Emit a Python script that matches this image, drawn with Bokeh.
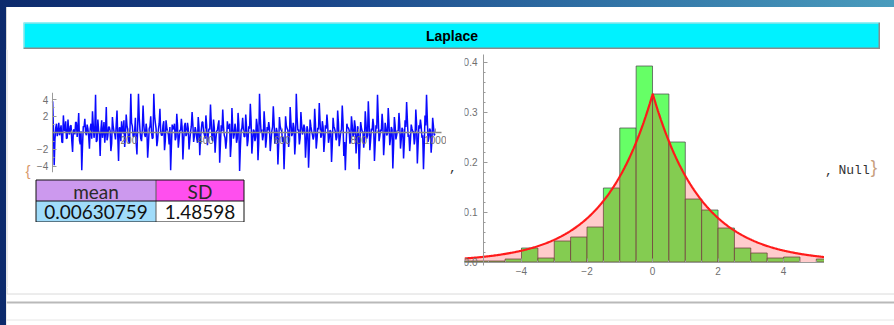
import numpy as np
from bokeh.plotting import figure
from bokeh.layouts import row, column
from bokeh.models import Range1d, FixedTicker, Span
from bokeh.core.properties import value
from bokeh.embed import file_html
from bokeh.resources import INLINE

# ---------------- data ----------------
title_text = "Laplace"

# series values read/ (set A at t=1,5,9..., set B at t=3,7,11...)
ts_values_a = [
    3.8, -3.9, 0.6, -0.4, 1.2, 0.3, -1.1, 2.1, 0.2, -0.7, 1.6, -0.2, 0.9, -2.3, 0.4, 1.3, -0.5, 2.4, -1.4, -4.5, 0.8, 1.7, -0.3, 0.5, -1.9,
    1.1, 2.6, -0.6, 4.6, -0.9, 0.3, -2.8, 1.5, 0.1, -1.2, 3.1, -0.4, 0.7, -2.2, 1.9, 0.2, -0.8, 2.7, -3.4, 0.6, 1.4, -0.1, -1.7, 2.2, 0.4,
    -1.3, 4.7, 0.8, -0.5, 1.8, -2.6, 4.7, 0.3, -1.0, 3.3, -0.2, 1.1, -3.0, 0.5, 2.0, -0.7, 4.7, 1.2, -1.6, 0.4, 2.9, -0.3, 0.9, -2.1, 1.5,
    0.2, -1.4, -4.5, 1.0, 0.6, -0.9, 2.3, -1.8, 0.3, 1.7, -3.2, 0.8, -0.4, 1.2, -2.0, 0.1, 2.5, -1.1, 0.7, -0.6, 1.9, -2.7, 0.4, 1.3, -0.2,
    2.1, -1.5, 0.5, 3.4, -0.8, 1.6, -2.4, 0.2, 1.0, -3.6, 0.9, 2.8, -0.3, -1.9, 1.4, 0.6, -2.9, 3.0, -0.7, 1.1, -1.2, 2.4, -4.6, 0.3, 1.8,
    -0.5, 2.2, -1.6, 0.8, 3.5, -2.5, 0.4, -1.0, 1.7, -3.3, 4.7, 0.1, -0.9, 2.6, -1.8, 0.7, 1.3, -2.2, 0.2, 3.2, -1.3, 0.6, -3.8, 1.9, 0.4,
    -1.1, -4.4, 2.0, 0.5, -1.7, 3.1, -0.4, 1.2, -2.6, 4.7, 0.3, -1.4, 2.5, -0.2, 1.0, -3.0, 0.8, -4.2, 1.6, 0.2, -0.8, 2.9, -1.9, 0.6, 3.6,
    -0.6, 1.4, -2.3, 0.9, 2.2, -1.2, 0.3, -3.5, 1.8, 0.5, -0.9, 2.7, -1.6, 0.1, 3.3, -2.8, -4.5, 1.1, 0.6, -1.3, 2.0, -0.4, 1.5, -2.5, 0.8,
    -4.4, 1.3, 0.2, -1.8, 2.6, -0.7, 3.8, -2.1, 0.5, 1.7, -3.4, 0.9, 4.6, -1.0, 0.4, 2.3, -2.7, 1.2, -0.3, 3.0, -1.5, 0.7, -4.3, 1.9, -0.8,
    0.3, 2.4, -1.9, 0.6, -3.1, 1.5, 3.7, -0.5, -2.2, 1.0, 0.2, -1.4, 2.8, -3.7, 0.9, 1.6, -0.6, -4.4, 2.1, 4.6, -1.1, 0.5, -2.4, 1.8, -0.3,
]
ts_values_b = [
    0.5, -0.8, 1.1, 0.2, -0.3, 0.9, -1.2, 0.4, 1.4, -0.6, 0.1, 0.8, -1.0, 0.3, -0.2, 1.2, 0.6, -0.9, 0.2, -1.5, 0.7, 0.0, 1.0, -0.4, 0.5,
    -0.7, 0.9, 0.3, -1.1, 1.6, -0.2, 0.4, -0.6, 1.3, 0.1, -0.9, 0.7, 0.2, -1.3, 0.8, -0.1, 1.1, -0.5, 0.6, -1.0, 0.3, 1.5, -0.3, 0.9, -0.8,
    0.6, 1.2, -0.4, 0.2, -1.2, 0.9, 1.8, -0.7, 0.4, 1.0, -0.5, 0.3, -1.4, 0.8, 0.1, -0.6, 2.1, 0.5, -0.9, 1.1, 0.2, -0.3, 1.4, -1.0, 0.6,
    -0.2, 0.7, -1.6, 0.4, 1.1, -0.5, 0.9, -0.8, 0.3, 0.6, -1.1, 1.2, -0.1, 0.5, -0.9, 0.8, 1.0, -0.4, 0.2, -1.2, 0.7, -0.6, 1.3, 0.1, -0.7,
    0.9, -0.3, 0.4, 1.2, -1.0, 0.6, -0.8, 0.3, 1.5, -1.3, 0.2, 0.8, -0.6, -0.9, 0.5, 1.1, -1.4, 0.7, -0.2, 0.4, -0.7, 1.0, -1.8, 0.6, 0.3,
    -0.4, 0.8, -0.9, 0.5, 1.4, -1.1, 0.2, -0.5, 0.9, -1.2, 1.7, 0.4, -0.3, 1.0, -0.8, 0.3, 0.6, -1.0, 0.7, 1.2, -0.6, 0.1, -1.5, 0.8, 0.2,
    -0.5, -1.6, 0.9, 0.3, -0.7, 1.3, -0.1, 0.6, -1.1, 1.9, 0.4, -0.6, 1.0, 0.2, 0.5, -1.2, 0.3, -1.7, 0.8, -0.2, -0.4, 1.1, -0.9, 0.4, 1.4,
    -0.3, 0.7, -1.0, 0.5, 0.9, -0.6, 0.2, -1.4, 0.8, 0.1, -0.5, 1.2, -0.8, 0.4, 1.3, -1.1, -1.7, 0.6, 0.3, -0.7, 0.9, -0.2, 0.7, -1.0, 0.4,
    -1.6, 0.6, 0.1, -0.8, 1.1, -0.3, 1.5, -0.9, 0.3, 0.8, -1.3, 0.5, 1.8, -0.4, 0.2, 1.0, -1.1, 0.6, -0.1, 1.2, -0.7, 0.4, -1.6, 0.9, -0.3,
    0.2, 1.0, -0.8, 0.4, -1.2, 0.7, 1.5, -0.2, -0.9, 0.5, 0.1, -0.6, 1.1, -1.4, 0.5, 0.8, -0.3, -1.5, 0.9, 1.7, -0.5, 0.3, -1.0, 0.8, -0.1,
]
ts_time = list(range(1, 1001, 2))
ts_series = [v for pair in zip(ts_values_a, ts_values_b) for v in pair]

ts_xticks = [200, 400, 600, 800, 1000]
ts_xtick_labels = ["200", "400", "600", "800", "1000"]
ts_xminor = list(range(0, 1001, 50))
ts_yticks = [-4, -2, 2, 4]
ts_ytick_labels = ["\u22124", "\u22122", "2", "4"]
ts_yminor = [-4, -3, -2, -1, 1, 2, 3, 4]

stat_headers = ["mean", "SD"]
stat_texts = ["0.00630759", "1.48598"]
mean_value = 0.00630759
sd_value = 1.48598

hist_edges = [-6.0, -5.5, -5.0, -4.5, -4.0, -3.5, -3.0, -2.5, -2.0, -1.5, -1.0, -0.5,
              0.0, 0.5, 1.0, 1.5, 2.0, 2.5, 3.0, 3.5, 4.0, 4.5, 5.0, 5.5]
hist_density = [0.002, 0.002, 0.002, 0.006, 0.028, 0.008, 0.042, 0.05, 0.07, 0.148, 0.268, 0.392,
                0.336, 0.24, 0.126, 0.104, 0.068, 0.028, 0.018, 0.008, 0.01, 0.0, 0.006]
hist_xticks = [-4, -2, 0, 2, 4]
hist_xtick_labels = ["\u22124", "\u22122", "0", "2", "4"]
hist_yticks = [0.0, 0.1, 0.2, 0.3, 0.4]
hist_ytick_labels = ["0.0", "0.1", "0.2", "0.3", "0.4"]
hist_yminor = [round(0.02 * i, 2) for i in range(21)]
hist_xminor = [-5.0, -4.5, -4.0, -3.5, -3.0, -2.5, -2.0, -1.5, -1.0, -0.5, 0.0,
               0.5, 1.0, 1.5, 2.0, 2.5, 3.0, 3.5, 4.0, 4.5, 5.0]

# ---------------- styles ----------------
TICK_FONT = "Liberation Sans"
TICK_COLOR = "#707070"
AXIS_COLOR = "#9a9a9a"
MONO = "Liberation Mono"


def fig(**kw):
    p = figure(toolbar_location=None, output_backend="svg", title=None, **kw)
    p.background_fill_color = "white"
    p.border_fill_color = "white"
    p.outline_line_color = None
    return p


def style_axis(ax, ticks, labels, minor, standoff):
    ax.ticker = FixedTicker(ticks=ticks, minor_ticks=minor)
    ax.major_label_overrides = {t: l for t, l in zip(ticks, labels)}
    ax.axis_line_color = AXIS_COLOR
    ax.major_tick_line_color = AXIS_COLOR
    ax.minor_tick_line_color = AXIS_COLOR
    ax.major_tick_in = 4
    ax.major_tick_out = 0
    ax.minor_tick_in = 2
    ax.minor_tick_out = 0
    ax.major_label_text_font = TICK_FONT
    ax.major_label_text_font_size = "10px"
    ax.major_label_text_color = TICK_COLOR
    ax.major_label_standoff = standoff


# ---------------- header ----------------
hdr = fig(width=857, height=27, x_range=Range1d(0, 857), y_range=Range1d(0, 27),
          x_axis_type=None, y_axis_type=None, min_border=0, margin=(15, 0, 0, 17))
hdr.background_fill_color = "#00F2FF"
hdr.border_fill_color = "#00F2FF"
hdr.text(x=[428.5], y=[13.5], text=[title_text], text_align="center", text_baseline="middle",
         text_font=value("Liberation Sans"), text_font_style="bold",
         text_font_size=value("14px"), text_color="black")
hdr.add_layout(Span(location=26.5, dimension="width", line_color="#d9d9d9", line_width=1))
hdr.add_layout(Span(location=0.5, dimension="height", line_color="#d9d9d9", line_width=1))
hdr.add_layout(Span(location=1, dimension="width", line_color="#8c8c8c", line_width=2))
hdr.add_layout(Span(location=856, dimension="height", line_color="#8c8c8c", line_width=2))

# ---------------- left brace ----------------
brace = fig(width=28, height=238, x_range=Range1d(0, 28), y_range=Range1d(238, 0),
            x_axis_type=None, y_axis_type=None, min_border=0)
brace.add_layout(Span(location=0.5, dimension="height", line_color="#d6d6d6", line_width=1))
brace.text(x=[21.5], y=[121], text=["{"], text_align="center", text_baseline="middle",
           text_font=value("Liberation Sans"), text_font_size=value("15px"), text_color="#d99a6c")

# ---------------- time series ----------------
ts = fig(width=412, height=129, x_range=Range1d(-46.4, 1029.1), y_range=Range1d(-4.78, 4.86),
         min_border_left=0, min_border_right=0, min_border_top=43, min_border_bottom=6)
ts.grid.visible = False
ts.line(ts_time, ts_series, line_color="#0a0aff", line_width=1.5)
ts.xaxis.fixed_location = 0
ts.yaxis.fixed_location = 0
ts.xaxis.bounds = (0, 1016)
style_axis(ts.xaxis[0], ts_xticks, ts_xtick_labels, ts_xminor, 3)
style_axis(ts.yaxis[0], ts_yticks, ts_ytick_labels, ts_yminor, 4)
ts.xaxis[0].axis_line_width = 1.3
ts.xaxis[0].axis_line_color = "#8a8a8a"

# ---------------- stats table ----------------
tab = fig(width=412, height=44, x_range=Range1d(-1.5, 410.5), y_range=Range1d(42.5, -1.5),
          x_axis_type=None, y_axis_type=None, min_border=0)
col_edges = [0, 120, 208]
row_edges = [0, 21, 42]
cell_fill = ["#cc99ee", "#ff4fee", "#a0dcfa", "#ffffff"]
cl = [col_edges[0], col_edges[1], col_edges[0], col_edges[1]]
cr = [col_edges[1], col_edges[2], col_edges[1], col_edges[2]]
ct = [row_edges[0], row_edges[0], row_edges[1], row_edges[1]]
cb = [row_edges[1], row_edges[1], row_edges[2], row_edges[2]]
tab.quad(left=cl, right=cr, top=ct, bottom=cb, fill_color=cell_fill, line_color=None)
tab.segment(x0=[col_edges[1]], y0=[row_edges[0]], x1=[col_edges[1]], y1=[row_edges[2]],
            line_color="#5a5a5a", line_width=1)
tab.segment(x0=[col_edges[0]], y0=[row_edges[1]], x1=[col_edges[2]], y1=[row_edges[1]],
            line_color="#111111", line_width=1)
tab.quad(left=[col_edges[0]], right=[col_edges[2]], top=[row_edges[0]], bottom=[row_edges[2]],
         fill_color=None, line_color="#111111", line_width=1)
tx = [(a + b) / 2 for a, b in zip(cl, cr)]
ty = [(a + b) / 2 + 0.5 for a, b in zip(ct, cb)]
tab.text(x=tx, y=ty, text=stat_headers + stat_texts, text_align="center", text_baseline="middle",
         text_font=value("Lato"), text_font_size=value("19px"),
         text_color=["#2a2a2a", "#2a2a2a", "#111111", "#111111"])

# ---------------- comma ----------------
comma = fig(width=16, height=238, x_range=Range1d(0, 16), y_range=Range1d(238, 0),
            x_axis_type=None, y_axis_type=None, min_border=0)
comma.text(x=[6.5], y=[118], text=[","], text_align="center", text_baseline="alphabetic",
           text_font=value(MONO), text_font_size=value("13px"), text_color="#333333")

# ---------------- histogram ----------------
hist = fig(width=362, height=238, x_range=Range1d(-5.74, 5.25), y_range=Range1d(-0.051, 0.425),
           min_border_left=2, min_border_right=0, min_border_top=0, min_border_bottom=0)
hist.grid.visible = False
hl = [e for e, d in zip(hist_edges[:-1], hist_density) if d > 0]
hr = [e for e, d in zip(hist_edges[1:], hist_density) if d > 0]
hd = [d for d in hist_density if d > 0]
hist.quad(left=hl, right=hr, top=hd, bottom=0, fill_color="#66ff66",
          line_color="#4d4d4d", line_alpha=0.75, line_width=1)
pdf_x = np.union1d(np.linspace(-5.74, 5.25, 500), [mean_value])
pdf_y = np.exp(-np.abs(pdf_x - mean_value) / sd_value) / (2 * sd_value)
hist.varea(x=pdf_x, y1=0, y2=pdf_y, fill_color="#ff0000", fill_alpha=0.2)
hist.line(pdf_x, pdf_y, line_color="#ff1a1a", line_width=2.2)
hist.xaxis.fixed_location = 0
hist.yaxis.fixed_location = -5.16
hist.yaxis.bounds = (-0.006, 0.415)
style_axis(hist.xaxis[0], hist_xticks, hist_xtick_labels, hist_xminor, 5)
style_axis(hist.yaxis[0], hist_yticks, hist_ytick_labels, hist_yminor, 6)

# ---------------- ", Null}" ----------------
null = fig(width=70, height=238, x_range=Range1d(0, 70), y_range=Range1d(238, 0),
           x_axis_type=None, y_axis_type=None, min_border=0)
null.text(x=[0.5, 14], y=[121, 121], text=[",", "Null"], text_align="left", text_baseline="alphabetic",
          text_font=value(MONO), text_font_size=value("13px"), text_color="#333333")
null.text(x=[49.5], y=[117], text=["}"], text_align="center", text_baseline="middle",
          text_font=value("Liberation Sans"), text_font_size=value("19px"), text_color="#c9a07e")

# ---------------- bottom frame lines ----------------
bottom = fig(width=888, height=38, x_range=Range1d(0, 888), y_range=Range1d(38, 0),
             x_axis_type=None, y_axis_type=None, min_border=0)
bottom.segment(x0=[0.5], y0=[0], x1=[0.5], y1=[6.5], line_color="#d6d6d6", line_width=1)
bottom.add_layout(Span(location=6.5, dimension="width", line_color="#dadada", line_width=1))
bottom.add_layout(Span(location=15, dimension="width", line_color="#b9b9b9", line_width=2))
bottom.add_layout(Span(location=32.5, dimension="width", line_color="#e6e6e6", line_width=1))

content = row(brace, column(ts, tab), comma, hist, null)
panel = column(hdr, content, bottom, width=888, height=318, margin=(7, 0, 0, 6),
               styles={"background-color": "#ffffff", "box-shadow": "inset 1px 0 0 #d6d6d6"})
root = column(panel, width=894, height=325,
              styles={"background": "linear-gradient(to right, #0c2a6c 0%, #1a4589 35%, #2e6ea3 65%, #4a9cbd 100%)"})

open("out.html", "w").write(file_html(root, INLINE))
